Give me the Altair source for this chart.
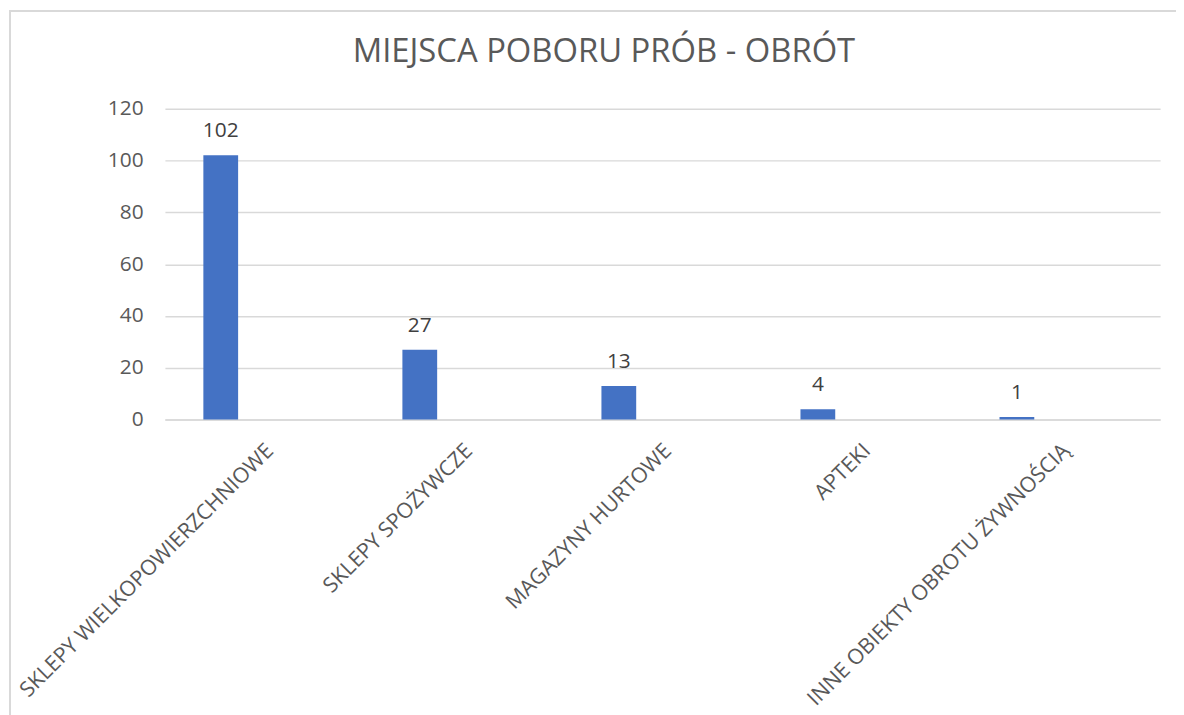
import altair as alt
import pandas as pd

categories = [
    "SKLEPY WIELKOPOWIERZCHNIOWE",
    "SKLEPY SPOŻYWCZE",
    "MAGAZYNY HURTOWE",
    "APTEKI",
    "INNE OBIEKTY OBROTU ŻYWNOŚCIĄ",
]
values = [102, 27, 13, 4, 1]
y_ticks = [0, 20, 40, 60, 80, 100, 120]
title_text = "MIEJSCA POBORU PRÓB - OBRÓT"

df = pd.DataFrame({"kategoria": categories, "liczba": values})

FONT = "Open Sans"
GRID = "#d9d9d9"
TXT = "#595959"

x_enc = alt.X(
    "kategoria:N",
    sort=categories,
    scale=alt.Scale(paddingInner=0, paddingOuter=0),
    axis=alt.Axis(
        title=None,
        labelAngle=-45,
        labelAlign="right",
        labelBaseline="middle",
        labelPadding=28,
        labelOffset=6,
        labelFontSize=21.5,
        labelColor=TXT,
        labelFont=FONT,
        labelLimit=0,
        ticks=False,
        grid=False,
        domainColor=GRID,
        domainWidth=1.5,
    ),
)
y_enc = alt.Y(
    "liczba:Q",
    scale=alt.Scale(domain=[0, 120], nice=False),
    axis=alt.Axis(
        title=None,
        values=y_ticks,
        grid=True,
        gridColor=GRID,
        gridWidth=1.5,
        domain=False,
        ticks=False,
        labelPadding=22,
        labelFontSize=21,
        labelColor=TXT,
        labelFont=FONT,
    ),
)

bars = alt.Chart(df).mark_bar(size=35, xOffset=-44, color="#4472C4").encode(x=x_enc, y=y_enc)
labels = alt.Chart(df).mark_text(
    xOffset=-44, dy=-18, baseline="alphabetic", fontSize=21, font=FONT, color="#404040"
).encode(x=x_enc, y=y_enc, text="liczba:Q")

border = alt.Chart(df).mark_rect(
    fill=None, filled=False, stroke=GRID, strokeWidth=1.5
).encode(
    x=alt.value(-156), x2=alt.value(1040), y=alt.value(-98.5), y2=alt.value(700)
)

chart = alt.layer(border, bars, labels).properties(
    width=1002,
    height=313,
    title=alt.TitleParams(
        title_text,
        font=FONT,
        fontSize=33,
        fontWeight="normal",
        color=TXT,
        anchor="middle",
        frame="group",
        dx=-59,
        offset=-59,
    ),
    autosize=alt.AutoSizeParams(type="none"),
    padding={"left": 158, "top": 99, "right": 16, "bottom": 295},
).configure_view(stroke=None)

chart.save("out.html", embed_options={"renderer": "svg", "actions": False})
